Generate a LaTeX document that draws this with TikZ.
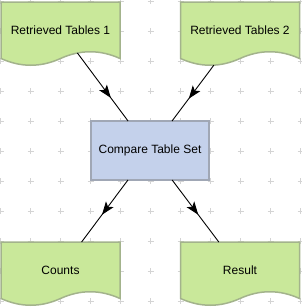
\documentclass[tikz,border=0pt]{standalone}
\usepackage{fontspec}
\setmainfont{Liberation Sans}
\usetikzlibrary{calc,intersections,backgrounds,decorations.markings,arrows.meta}
\definecolor{docfill}{HTML}{C9E89A}
\definecolor{docline}{HTML}{A3B38C}
\definecolor{procfill}{HTML}{C4D1EB}
\definecolor{procline}{HTML}{A0A7B5}
\definecolor{gridc}{HTML}{D4D4D4}
\tikzset{
  doctext/.style={inner sep=0pt, outer sep=0pt, minimum width=119pt, minimum height=56.5pt,
    font=\fontsize{12}{14}\selectfont, anchor=north west},
  docshape/.style={fill=docfill, draw=docline, line width=1.5pt},
  procbox/.style={draw=procline, fill=procfill, line width=1.5pt, inner sep=0pt, outer sep=0pt,
    minimum width=118pt, minimum height=59pt, font=\fontsize{12}{14}\selectfont},
  conn/.style={draw=black, line width=0.9pt, postaction={decorate}},
  midtip/.style={decoration={markings, mark=at position #1 with {\arrow{Stealth[length=13pt,width=9.5pt,inset=3pt]}}}},
  gridplus/.style={draw=gridc, line width=0.8pt}
}
\newcommand\mydoc[2]{%
  \path[docshape, name path global=#1path] (#1.north west) -- (#1.north east) -- (#1.south east)
    .. controls ($(#1.south east)+(-#2/6,-9)$) and ($(#1.south east)+(-#2/3,-9)$) .. (#1.south)
    .. controls ($(#1.south)+(-#2/6,9)$) and ($(#1.south)+(-#2/3,9)$) .. (#1.south west) -- cycle;}
\begin{document}
\begin{tikzpicture}[x=1pt,y=-1pt]
\useasboundingbox (0,0) rectangle (301,308);
\node[doctext] (t1) at (1,2) {Retrieved Tables 1};
\node[doctext] (t2) at (180.5,2) {Retrieved Tables 2};
\node[procbox, anchor=north west] (c) at (91,121) {Compare Table Set};
\node[doctext] (cnt) at (1,242) {Counts};
\node[doctext] (res) at (180.5,242) {Result};
\begin{pgfonlayer}{background}
  \foreach \i in {0,...,10} \foreach \j in {0,...,10}
    \draw[gridplus] (30*\i+0.5-3, 30*\j+1) -- ++(6,0) (30*\i+0.5, 30*\j+1-3) -- ++(0,6);
  \mydoc{t1}{119}
  \mydoc{t2}{119}
  \mydoc{cnt}{119}
  \mydoc{res}{119}
\end{pgfonlayer}
\path[name path=l1] (t1.center) -- (c.center);
\path[name path=l2] (t2.center) -- (c.center);
\path[name intersections={of=t1path and l1, by=p1}];
\path[name intersections={of=t2path and l2, by=p2}];
\draw[conn, midtip=0.66] (p1) -- (c);
\draw[conn, midtip=0.6] (p2) -- (c);
\draw[conn, midtip=0.56] (c) -- (cnt);
\draw[conn, midtip=0.56] (c) -- (res);
\end{tikzpicture}
\end{document}
